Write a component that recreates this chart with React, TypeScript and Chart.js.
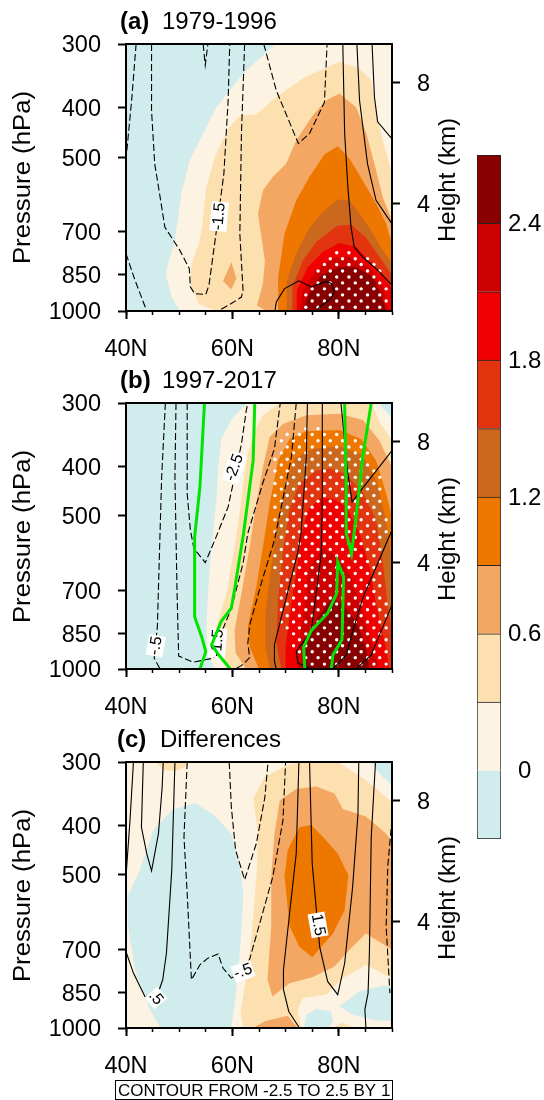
import React, { useEffect, useRef } from "react";
import { Chart, registerables } from "chart.js";
Chart.register(...registerables);
Chart.defaults.font.family = "'Liberation Sans', Arial, sans-serif";
Chart.defaults.color = "#000";

type P = [number, number];
const FONT = "'Liberation Sans', Arial, sans-serif";

// ---- colour levels
const colorLevels = [-0.3, 0, 0.3, 0.6, 0.9, 1.2, 1.5, 1.8, 2.1, 2.4, 2.7];
const colorFills = ["#d1ecec", "#fdf3e3", "#fde0b0", "#f3a763", "#ee7700", "#cc671e", "#e2340f", "#f00000", "#cc0000", "#880000"];
const colorTicks = [0, 0.6, 1.2, 1.8, 2.4];
const pressureTicks = [300, 400, 500, 700, 850, 1000];
const heightTicks = [4, 8];
const latTicks = [40, 60, 80];
const wholePanel: P[] = [[40, 300], [90, 300], [90, 1000], [40, 1000]];

// ---- panel (a) fills
const a00: P[] = [[68.1, 300], [65.75, 316], [62.6, 338], [60.75, 356], [57, 399], [55.1, 436], [52, 507], [50.4, 589], [49.8, 655], [49.2, 727], [47.9, 808], [47.5, 851], [48.6, 939], [50.1, 1000], [90, 1000], [90, 300]];
const a03: P[] = [[57, 1000], [53.6, 967], [52.1, 883], [52.3, 808], [53.9, 727], [54.5, 655], [55.1, 571], [56.7, 500], [59.2, 439], [61.4, 414], [64.5, 412], [68.25, 381], [73.25, 350], [80.1, 325], [83.9, 335], [86.1, 353], [87, 405], [88.25, 463], [90, 538], [90, 1000]];
const a06: P[] = [[66.4, 1000], [64.6, 975], [65.75, 883], [66.1, 796], [64.8, 644], [65.75, 580], [67.6, 546], [70.1, 515], [72, 463], [75.1, 414], [77.6, 387], [80.1, 375], [83.25, 399], [85.1, 446], [86.7, 515], [88.25, 598], [90, 665], [90, 1000]];
const a06b: P[] = [[59.8, 802], [60.75, 864], [59.8, 908], [58.25, 873]];
const a09: P[] = [[68.75, 1000], [68.6, 858], [69.8, 706], [72, 607], [74.5, 546], [77.3, 493], [79.8, 476], [82, 503], [84.5, 555], [87, 616], [88.9, 675], [90, 738], [90, 1000]];
const a12: P[] = [[70.25, 1000], [70.25, 871], [72, 772], [74.2, 695], [76.7, 644], [79.8, 605], [82, 607], [85.1, 670], [88.25, 760], [90, 808], [90, 1000]];
const a15: P[] = [[71.25, 1000], [71.25, 897], [73.25, 796], [75.75, 733], [79.6, 682], [82.3, 677], [85.1, 718], [87.9, 790], [90, 851], [90, 1000]];
const a18: P[] = [[72, 1000], [72.1, 911], [74.2, 820], [77, 766], [80.1, 736], [83.25, 749], [86.4, 808], [88.9, 871], [90, 904], [90, 1000]];
const a21: P[] = [[72.6, 1000], [73.25, 911], [75.75, 832], [78.9, 790], [82, 781], [85.75, 820], [88.25, 897], [89.4, 1000]];
const a24: P[] = [[73.25, 1000], [74.4, 925], [76.7, 851], [80.1, 820], [83.25, 820], [86.4, 858], [87.9, 925], [88.9, 1000]];

// ---- panel (a) contours
const aNeg: P[][] = [
  [[41.9, 300], [41.06, 387], [40.1, 492]],
  [[40, 772], [41.7, 871], [43.9, 1000]],
  [[44.8, 300], [44.8, 405], [45.4, 515], [46.1, 571], [47.3, 685], [50.1, 760], [51.9, 826], [52.1, 897], [52.9, 925], [55, 928], [55.6, 890], [57, 695], [58.4, 538], [59.2, 387], [59.5, 300]],
  [[54.5, 300], [54.9, 330], [55.4, 300]],
  [[62.3, 300], [61.7, 449], [61.4, 706], [62, 911], [61.7, 939], [59.8, 967], [57.3, 1000]],
  [[65.9, 300], [68.25, 370], [72.4, 470], [74.5, 449], [77.3, 390], [77.8, 300]],
];
const aPos: P[][] = [
  [[80.75, 300], [81.1, 449], [81.7, 571], [82.3, 685], [82.9, 749], [84.5, 784], [87.3, 832], [90, 890]],
  [[83.4, 300], [83.9, 387], [85.4, 515], [87, 607], [90, 675]],
  [[86.25, 300], [86.7, 381], [87.3, 426], [90, 460]],
  [[68, 1000], [68.25, 960], [69.8, 904], [72.5, 873], [74.8, 897], [77.6, 875], [78.6, 883], [79.2, 922], [78.25, 950], [76.4, 982], [75.75, 1000]],
];

// ---- significance grid
const latsA = [63.3, 65.6, 68, 70.3, 72.6, 75, 77.3, 79.6, 81.9, 84.2, 86.6, 88.9];
const latsB = [62.2, 64.6, 66.9, 69.2, 71.5, 73.8, 76.1, 78.4, 80.7, 83.1, 85.4, 87.7];
type Row = [number, number, number];
const aDots: Row[] = [
  [769, 79.6, 81.9], [790, 78.4, 85.4], [811, 77.3, 86.6], [835, 76.1, 87.7], [858, 77.3, 86.6],
  [881, 76.1, 87.7], [905, 75, 88.9], [930, 73.8, 87.7], [956, 75, 88.9], [983, 73.8, 87.7],
];
const bDots: Row[] = [
  [337, 73.8, 76.1], [346, 70.3, 79.6], [356, 69.2, 83.1], [366, 70.3, 84.2], [376, 69.2, 85.4], [387, 68, 84.2], [397, 69.2, 85.4], [408, 68, 86.6],
  [420, 69.2, 87.7], [432, 68, 86.6], [443, 69.2, 87.7], [456, 68, 86.6], [468, 69.2, 87.7], [481, 68, 86.6], [495, 69.2, 87.7], [509, 68, 88.9],
  [523, 69.2, 87.7], [537, 68, 88.9], [551, 69.2, 87.7], [567, 70.3, 86.6], [582, 69.2, 87.7], [599, 68, 86.6], [615, 69.2, 87.7], [632, 68, 86.6],
  [649, 69.2, 87.7], [668, 70.3, 86.6], [686, 69.2, 87.7], [704, 70.3, 86.6], [725, 69.2, 87.7], [745, 70.3, 88.9], [765, 69.2, 87.7], [786, 70.3, 88.9],
  [808, 69.2, 87.7], [830, 70.3, 88.9], [853, 71.5, 87.7], [876, 72.6, 88.9], [900, 71.5, 87.7], [925, 72.6, 88.9], [950, 73.8, 87.7], [978, 75, 88.9],
];

// ---- panel (b) fills
const b00: P[] = [[62.9, 300], [60.1, 320], [57.9, 353], [57.3, 407], [57, 466], [56.1, 575], [55.4, 710], [55.1, 825], [55.25, 930], [56.7, 1000], [90, 1000], [90, 322], [87.5, 300]];
const b03: P[] = [[68.9, 300], [65.75, 317], [63.9, 345], [62.6, 389], [61.7, 466], [60.4, 575], [58.9, 710], [57, 825], [57, 930], [59.2, 1000], [90, 1000], [90, 355], [87.9, 330], [86.1, 300]];
const b06: P[] = [[62.6, 1000], [60.6, 930], [60.4, 841], [61.7, 710], [63.25, 575], [64.5, 473], [65.75, 401], [67, 350], [69.5, 330], [73.9, 317], [80.1, 315], [84.5, 324], [87.6, 355], [90, 401], [90, 1000]];
const b09: P[] = [[65, 1000], [63.25, 905], [62.9, 825], [64.5, 689], [65.75, 575], [67, 473], [68.6, 389], [70.75, 353], [73.9, 341], [80.1, 339], [84.2, 353], [87, 389], [88.9, 452], [90, 502], [90, 1000]];
const b12: P[] = [[67, 1000], [66.2, 905], [66.2, 777], [67.3, 630], [68.6, 510], [69.8, 438], [71.7, 386], [75.1, 369], [80.1, 365], [84.5, 380], [87.3, 432], [89, 518], [90, 611], [90, 1000]];
const b15: P[] = [[69.2, 1000], [68.25, 889], [68.6, 731], [69.5, 584], [70.75, 487], [72.6, 432], [75.75, 407], [78.25, 403], [81.1, 413], [84.5, 449], [87, 510], [88.25, 611], [89.2, 754], [90, 841], [90, 1000]];
const b18: P[] = [[70, 1000], [70, 905], [70.9, 765], [72, 648], [72.9, 550], [74.2, 487], [76.4, 462], [78.9, 462], [81.4, 480], [83.9, 541], [85.75, 630], [87.1, 754], [88.9, 916], [89.5, 1000]];
const b21: P[] = [[72.1, 1000], [72.4, 905], [73.6, 754], [74.5, 630], [77, 579], [79.8, 602], [82.3, 659], [84.5, 777], [86.7, 930], [87.5, 1000]];
const b24: P[] = [[73.1, 1000], [73.9, 889], [76.1, 789], [78.9, 723], [80.75, 748], [83.25, 806], [85, 905], [85.75, 1000]];

// ---- panel (b) contours
const bNeg: P[][] = [
  [[47.4, 300], [46.7, 420], [46.25, 611], [45.9, 825], [45.3, 952], [46.4, 1000]],
  [[49.4, 300], [49.2, 420], [49.6, 710], [49.9, 943], [52.6, 970], [56.4, 952], [57.3, 920], [57.9, 850], [59.8, 760], [62, 620], [62.9, 541], [65.75, 430], [67.9, 369], [69, 300]],
  [[51.5, 300], [51.5, 452], [52.1, 533], [52.75, 579], [54.9, 618], [56.7, 558], [59.2, 480], [61.7, 361], [62.6, 311], [62.9, 300]],
  [[72, 300], [71.1, 383], [67.9, 558], [65.4, 680], [63.25, 820], [62.9, 890], [63.25, 950], [61.7, 985], [60.4, 1000]],
];
const bPos: P[][] = [
  [[74.1, 300], [73.9, 383], [72.9, 541], [72.3, 589], [70.1, 726], [67.9, 896], [67.9, 966], [68.25, 1000]],
  [[76.9, 300], [76.9, 452], [76.7, 593], [75.75, 710], [74.8, 844], [72, 924], [72.3, 973], [74.8, 1000]],
  [[80.4, 300], [81.7, 412], [82.5, 470], [83.9, 449], [90, 372]],
  [[90, 533], [84.5, 726], [82.6, 844], [81.4, 938], [78.9, 1000]],
  [[90, 748], [86.1, 938], [83.25, 1000]],
];
const bGreen: P[][] = [
  [[54.75, 300], [53.9, 438], [52.9, 550], [52.9, 789], [54.2, 863], [55, 924], [53.9, 1000]],
  [[64.2, 300], [63.9, 389], [62.1, 541], [60.4, 699], [59.8, 759], [57.9, 806], [56.1, 896], [57.6, 943], [59.6, 1000]],
  [[81.1, 300], [81.4, 452], [81.4, 541], [82.4, 593], [83.1, 518], [84.5, 383], [86.1, 300]],
  [[73.6, 1000], [73.4, 905], [74.8, 841], [77.9, 777], [79.6, 710], [79.8, 616], [80.9, 659], [80.6, 876], [78.9, 938], [78.6, 1000]],
];

// ---- panel (c) fills
const c00Blue1: P[] = [[40.25, 552], [42.6, 490], [45.1, 409], [48.6, 373], [52.9, 361], [56.4, 380], [59.8, 415], [61.4, 482], [62.1, 544], [61.4, 713], [60.6, 867], [59.8, 1000], [46.4, 1000], [44.2, 907], [41.7, 769], [40.4, 632]];
const c00Blue2: P[] = [[86.1, 300], [90, 300], [90, 334], [87.6, 316]];
const c00Blue3: P[] = [[80.1, 907], [83.9, 847], [88.25, 826], [90, 826], [90, 970], [86.4, 963], [82.6, 941]];
const c00Blue4: P[] = [[73.4, 1000], [73.9, 941], [75.75, 918], [78.6, 928], [78.9, 970], [78.1, 1000]];
const c03: P[] = [[62, 1000], [61.5, 935], [62.6, 792], [63.6, 662], [64.6, 490], [64.8, 415], [63.9, 353], [66.1, 321], [70.1, 305], [72.9, 300], [79.8, 300], [82, 310], [85.1, 326], [90, 360], [90, 798], [85.1, 751], [80.75, 798], [77.6, 860], [73.25, 873], [72.3, 920], [72.9, 1000]];
const c03Top: P[] = [[45.6, 300], [47, 311], [49.2, 313], [51.1, 307], [51.5, 300]];
const c03Low: P[] = [[79.2, 1000], [80.4, 975], [83.25, 1000]];
const c06: P[] = [[68.9, 357], [72, 339], [75.75, 335], [79.2, 346], [80.75, 371], [85.1, 384], [88.9, 415], [90, 431], [90, 702], [85.1, 652], [82.3, 697], [79.2, 757], [75.1, 794], [70.75, 817], [67.5, 867], [66.6, 803], [67.3, 632], [67.3, 504], [67.9, 415]];
const c06Low: P[] = [[63.9, 1000], [66.1, 970], [70.4, 946], [72.3, 1000]];
const c09: P[] = [[72.6, 403], [74.8, 399], [77, 421], [79.8, 454], [81.8, 501], [81.1, 587], [78.9, 652], [75, 726], [72.6, 692], [70.75, 632], [69.8, 504], [70.4, 447]];

// ---- panel (c) contours
const cNeg: P[][] = [
  [[51.5, 300], [50.9, 421], [51.5, 544], [52.3, 804], [53.9, 751], [55.4, 729], [57.3, 715], [58.25, 763], [59.8, 798], [62, 774], [63.25, 732], [67.6, 504], [69.5, 391], [70, 300]],
  [[59.4, 300], [59.8, 368], [60.6, 447], [62.3, 511], [64.5, 434], [66.1, 352], [66.7, 300]],
  [[90, 388], [89.2, 482], [88.9, 632], [89.4, 780], [89.6, 854]],
];
const cPos: P[][] = [
  [[41.4, 300], [40.75, 391], [40, 504]],
  [[43.25, 300], [42.9, 403], [43.9, 454], [44.8, 491], [46.1, 415], [46.8, 336], [47, 300]],
  [[49.2, 300], [48.6, 490], [47.6, 713], [46.9, 804], [46.25, 841], [43.6, 869], [41.4, 780], [40, 708]],
  [[72.5, 300], [72, 454], [70.75, 595], [69.6, 769], [69.6, 841], [70.6, 928], [72.6, 1000]],
  [[74.5, 300], [75, 475], [76.4, 692], [77.9, 810], [79.8, 860], [81.1, 746], [82.6, 528], [83.6, 380], [83.75, 300]],
  [[86.9, 300], [86.1, 421], [85.75, 713], [85.5, 854], [84.9, 920], [85.1, 1000]],
];

// ---- contour labels: text, lat, pressure, rotation (degrees)
type Lab = [string, number, number, number];
const aLabels: Lab[] = [["-1.5", 57.5, 653, -85]];
const bLabels: Lab[] = [["-.5", 45.6, 900, -80], ["-2.5", 60.4, 402, -70], ["-1.5", 57.2, 889, -85]];
const cLabels: Lab[] = [[".5", 45.6, 873, 50], ["-.5", 62, 774, -20], ["1.5", 76.1, 627, 80]];

const xy = (pts: P[]) => pts.map(([x, y]) => ({ x, y }));

function dotsOf(rows: Row[]) {
  const out: { x: number; y: number }[] = [];
  for (const [p, from, to] of rows) {
    const grid = latsA.includes(from) ? latsA : latsB;
    for (const lat of grid) if (lat >= from && lat <= to) out.push({ x: lat, y: p });
  }
  return out;
}

const fill = (pts: P[], color: string) => ({
  data: xy(pts), showLine: true, fill: "shape", backgroundColor: color, borderColor: color,
  borderWidth: 0, pointRadius: 0, tension: 0,
});
const line = (pts: P[], dashed: boolean, color = "#000", width = 1.1) => ({
  data: xy(pts), showLine: true, fill: false, borderColor: color, borderWidth: width,
  borderDash: dashed ? [7, 3] : [], pointRadius: 0, tension: 0,
});
const stipple = (rows: Row[]) => ({
  data: dotsOf(rows), showLine: false, pointRadius: 1.7, pointBackgroundColor: "#fff", pointBorderWidth: 0,
});

interface PanelCfg {
  height: number; top: number; bottom: number; tag: string; tagX: number; title: string; titleX: number; titleY: number;
  fills: [P[], string][]; dots?: Row[]; neg: P[][]; pos: P[][]; green?: P[][]; labels: Lab[]; footer?: boolean;
}
const [cBlue, cCream, c3, c6, c9, c12, c15, c18, c21, c24] = colorFills;

const panels: PanelCfg[] = [
  { height: 358, top: 44, bottom: 311, tag: "(a)", tagX: 120, title: "1979-1996", titleX: 162, titleY: 29,
    fills: [[wholePanel, cBlue], [a00, cCream], [a03, c3], [a06, c6], [a06b, c6], [a09, c9], [a12, c12], [a15, c15], [a18, c18], [a21, c21], [a24, c24]],
    dots: aDots, neg: aNeg, pos: aPos, labels: aLabels },
  { height: 358, top: 44, bottom: 310, tag: "(b)", tagX: 120, title: "1997-2017", titleX: 162, titleY: 29,
    fills: [[wholePanel, cBlue], [b00, cCream], [b03, c3], [b06, c6], [b09, c9], [b12, c12], [b15, c15], [b18, c18], [b21, c21], [b24, c24]],
    dots: bDots, neg: bNeg, pos: bPos, green: bGreen, labels: bLabels },
  { height: 382, top: 44, bottom: 310, tag: "(c)", tagX: 117, title: "Differences", titleX: 160, titleY: 29,
    fills: [[wholePanel, cCream], [c00Blue1, cBlue], [c00Blue2, cBlue], [c00Blue3, cBlue], [c00Blue4, cBlue], [c03, c3], [c03Top, c3], [c03Low, c3], [c06, c6], [c06Low, c6], [c09, c9]],
    neg: cNeg, pos: cPos, labels: cLabels, footer: true },
];
const panelTops = [0, 359, 718];

function makePanel(canvas: HTMLCanvasElement, cfg: PanelCfg) {
  const datasets: any[] = [];
  cfg.fills.forEach(([pts, color]) => datasets.push(fill(pts, color)));
  if (cfg.dots) datasets.push(stipple(cfg.dots));
  cfg.neg.forEach((l) => datasets.push(line(l, true)));
  cfg.pos.forEach((l) => datasets.push(line(l, false)));
  datasets.push({ label: "contour-labels", data: cfg.labels.map(([, x, y]) => ({ x, y })), showLine: false, pointRadius: 0 });
  (cfg.green || []).forEach((l) => datasets.push(line(l, false, "#00e400", 3)));
  datasets.forEach((d, i) => (d.order = datasets.length - i));

  const tickFont = { size: 23.5, family: FONT };
  const annot = {
    id: "annot",
    afterDatasetDraw(chart: any, args: any) {
      if (chart.data.datasets[args.index].label !== "contour-labels") return;
      const ctx = chart.ctx;
      const xs = chart.scales.x, ys = chart.scales.y;
      cfg.labels.forEach(([t, lat, p, rot]) => {
        ctx.save();
        ctx.translate(xs.getPixelForValue(lat), ys.getPixelForValue(p));
        ctx.rotate((rot * Math.PI) / 180);
        ctx.font = `16px ${FONT}`;
        const w = ctx.measureText(t).width;
        ctx.fillStyle = "#fff";
        ctx.fillRect(-w / 2 - 1, -8.5, w + 2, 17);
        ctx.fillStyle = "#000";
        ctx.textAlign = "center";
        ctx.textBaseline = "middle";
        ctx.fillText(t, 0, 0);
        ctx.restore();
      });
    },
    afterDraw(chart: any) {
      const ctx = chart.ctx;
      const a = chart.chartArea;
      ctx.save();
      ctx.strokeStyle = "#000";
      ctx.lineWidth = 2;
      ctx.strokeRect(a.left, a.top, a.right - a.left, a.bottom - a.top);
      ctx.fillStyle = "#000";
      ctx.textBaseline = "alphabetic";
      ctx.textAlign = "left";
      ctx.font = `bold 24px ${FONT}`;
      ctx.fillText(cfg.tag, cfg.tagX, cfg.titleY);
      ctx.font = `24px ${FONT}`;
      ctx.fillText(cfg.title, cfg.titleX, cfg.titleY);
      ctx.textAlign = "center";
      // right-hand axis title
      ctx.save();
      ctx.translate(455, a.top + 136);
      ctx.rotate(-Math.PI / 2);
      ctx.font = `24px ${FONT}`;
      ctx.fillText("Height (km)", 0, 0);
      ctx.restore();
      // left-hand axis title
      ctx.save();
      ctx.translate(30, a.top + 133.5);
      ctx.rotate(-Math.PI / 2);
      ctx.scale(1.12, 1);
      ctx.font = `23px ${FONT}`;
      ctx.fillText("Pressure (hPa)", 0, 0);
      ctx.restore();
      if (cfg.footer) {
        ctx.lineWidth = 1;
        ctx.strokeStyle = "#000";
        ctx.strokeRect(115.5, 362.5, 277, 19);
        ctx.font = `17px ${FONT}`;
        ctx.textAlign = "left";
        ctx.fillText("CONTOUR FROM -2.5 TO 2.5 BY 1", 118, 378);
      }
      ctx.restore();
    },
  };

  return new Chart(canvas, {
    type: "scatter",
    data: { datasets },
    plugins: [annot],
    options: {
      animation: false, responsive: false, maintainAspectRatio: false,
      layout: { padding: { top: cfg.top, left: 0, right: 0, bottom: 0 } },
      plugins: { legend: { display: false }, tooltip: { enabled: false } },
      scales: {
        x: {
          type: "linear", min: 40, max: 90, position: "bottom", weight: 1,
          afterBuildTicks: (s: any) => { s.ticks = latTicks.map((value) => ({ value })); },
          afterFit: (s: any) => { s.height = cfg.height - cfg.bottom; },
          ticks: { font: tickFont, maxRotation: 0, autoSkip: false, padding: 16, callback: (v: any) => `${v}N` },
          grid: { drawOnChartArea: false, tickLength: 8, tickWidth: 2, tickColor: "#000" },
          border: { display: false },
        },
        x2: {
          type: "linear", min: 40, max: 90, position: "bottom", axis: "x", weight: 0,
          afterFit: (s: any) => { s.height = 0; },
          ticks: { display: false, stepSize: 5 },
          grid: { drawOnChartArea: false, tickLength: 4, tickWidth: 1.5, tickColor: "#000" },
          border: { display: false },
        },
        y: {
          type: "logarithmic", min: 300, max: 1000, reverse: true, position: "left",
          afterBuildTicks: (s: any) => { s.ticks = pressureTicks.map((value) => ({ value })); },
          afterFit: (s: any) => { s.width = 126; },
          ticks: { font: tickFont, padding: 17, labelOffset: 2, autoSkip: false, callback: (v: any) => String(v) },
          grid: { drawOnChartArea: false, tickLength: 8, tickWidth: 2, tickColor: "#000" },
          border: { display: false },
        },
        yH: {
          type: "linear", min: 0.45, max: 9.28, position: "right", axis: "y",
          afterBuildTicks: (s: any) => { s.ticks = heightTicks.map((value) => ({ value })); },
          afterFit: (s: any) => { s.width = 78; },
          ticks: { font: tickFont, padding: 17, labelOffset: 2, callback: (v: any) => String(v) },
          grid: { drawOnChartArea: false, tickLength: 8, tickWidth: 2, tickColor: "#000" },
          border: { display: false },
        },
      },
    } as any,
  });
}

function makeBar(canvas: HTMLCanvasElement) {
  const datasets = colorFills.map((c, i) => ({
    data: [[colorLevels[i], colorLevels[i + 1]]], backgroundColor: c, borderColor: "#222", borderWidth: 1,
    barPercentage: 1, categoryPercentage: 1, grouped: false,
  }));
  return new Chart(canvas, {
    type: "bar",
    data: { labels: [""], datasets },
    options: {
      animation: false, responsive: false, maintainAspectRatio: false,
      layout: { padding: { top: 30, left: 12, right: 0, bottom: 30 } },
      plugins: { legend: { display: false }, tooltip: { enabled: false } },
      scales: {
        x: { display: false },
        y: {
          type: "linear", min: -0.3, max: 2.7, position: "right",
          afterBuildTicks: (s: any) => { s.ticks = colorTicks.map((value) => ({ value })); },
          afterFit: (s: any) => { s.width = 43; s.paddingTop = 0; s.paddingBottom = 0; },
          ticks: { font: { size: 24, family: FONT }, padding: 7, labelOffset: 1, crossAlign: "center", callback: (v: any) => (v === 0 ? "0" : Number(v).toFixed(1)) },
          grid: { display: false, drawTicks: false },
          border: { display: false },
        },
      },
    } as any,
  });
}

export default function App() {
  const refs = [useRef<HTMLCanvasElement>(null), useRef<HTMLCanvasElement>(null), useRef<HTMLCanvasElement>(null)];
  const barRef = useRef<HTMLCanvasElement>(null);
  useEffect(() => {
    const charts = panels.map((cfg, i) => makePanel(refs[i].current!, cfg));
    charts.push(makeBar(barRef.current!));
    return () => charts.forEach((c) => c.destroy());
  }, []);
  return (
    <div style={{ position: "absolute", left: 0, top: 0, width: 544, height: 1100, overflow: "hidden", background: "#fff" }}>
      {panels.map((cfg, i) => (
        <canvas key={i} ref={refs[i]} width={470} height={cfg.height}
          style={{ position: "absolute", left: 0, top: panelTops[i], width: 470, height: cfg.height }} />
      ))}
      <canvas ref={barRef} width={79} height={744} style={{ position: "absolute", left: 465, top: 125, width: 79, height: 744 }} />
    </div>
  );
}
